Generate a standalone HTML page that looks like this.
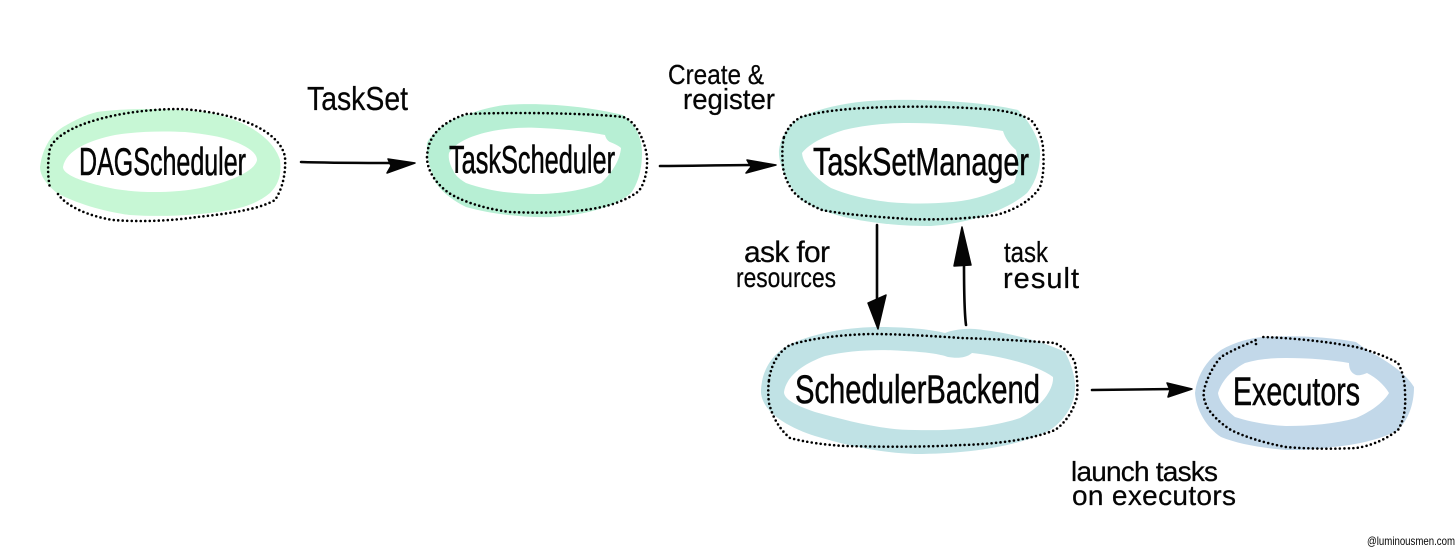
<!DOCTYPE html>
<html><head><meta charset="utf-8"><style>
html,body{margin:0;padding:0;background:#fff;width:1456px;height:558px;overflow:hidden}
svg{display:block}
text{font-family:"Liberation Sans",sans-serif;fill:#050505;stroke:#050505}
.n{stroke-width:.55px}
.e{stroke-width:.25px}
.s{stroke-width:0}
.d{fill:none;stroke:#000;stroke-width:2.6;stroke-linecap:round;stroke-dasharray:0 4.5}
.l{fill:none;stroke:#050505;stroke-width:2.6;stroke-linecap:round}
.h{fill:#050505;stroke:#050505;stroke-width:1.5;stroke-linejoin:round}
</style></head><body>
<svg width="1456" height="558" viewBox="0 0 1456 558" xmlns="http://www.w3.org/2000/svg">
<rect width="1456" height="558" fill="#fff"/>

<!-- DAGScheduler -->
<path fill="#c7f7d5" d="M40 167C42 150 50 135 63 127C75 120 85 115 97 112C125 108 165 108 205 112C240 118 272 135 280 160C282 175 278 185 270 193C258 203 245 207 230 210C195 216 160 217 130 215C105 212 75 203 57 193C47 185 40 176 40 167Z"/>
<path fill="#fff" d="M63 167C66 150 90 140 115 135C140 131 165 131 185 132C205 134 222 137 230 140C245 145 257 152 257 160C255 172 225 184 195 189C170 193 140 193 115 189C90 184 63 176 63 167Z"/>
<path class="d" d="M58 194C66 206 88 216 113 220C140 222 170 221 197 217C225 214 258 210 275 200C283 188 286 172 285 157C280 130 235 112 180 109C120 109 60 125 50 148C47 165 48 178 50 188"/>

<!-- TaskScheduler -->
<path fill="#b7efd4" d="M427 143C432 132 448 120 466 115C480 110 490 107 505 105C545 102 590 107 623 115C637 125 642 140 642 153C642 170 638 183 631 193C615 207 585 215 553 217C525 218 490 214 466 207C452 200 442 192 436 183C430 170 426 155 427 143Z"/>
<path fill="#fff" d="M449 153C455 143 470 136 488 132C505 128 525 127 540 128C565 129 590 132 605 135C606 139 608 141 610 142C615 144 619 146 621 148C620 160 612 173 601 183C585 190 560 194 536 194C510 194 485 190 466 183C458 178 455 175 453 170C450 165 448 158 449 153Z"/>
<path class="d" d="M427 157C428 140 435 125 466 114C510 112 590 113 623 117C635 120 645 140 647 157C648 175 642 190 636 193C620 204 600 208 584 210C560 213 535 213 510 212C480 208 460 200 449 193C435 183 427 170 427 157Z"/>

<!-- TaskSetManager -->
<path fill="#bce9df" d="M779 150C781 135 790 124 801 117C825 106 855 101 888 100C930 99 985 102 1018 110C1030 122 1040 140 1040 153C1040 170 1035 183 1027 193C1005 212 965 224 931 226C900 226 870 223 844 217C825 212 812 207 801 200C788 185 778 165 779 150Z"/>
<path fill="#fff" d="M802 153C810 143 825 136 844 130C865 125 885 123 909 123C945 123 980 127 1003 131C1005 138 1010 145 1016 150C1019 162 1018 173 1014 183C995 193 975 200 953 202C930 204 910 204 888 202C865 199 848 195 831 188C815 178 803 165 802 153Z"/>
<path class="d" d="M784 137C788 128 792 122 801 117C825 110 855 108 888 107C925 106 965 107 996 110C1012 112 1022 115 1031 120C1038 128 1042 138 1043 147C1044 162 1044 175 1040 187C1032 200 1015 210 996 215C965 219 935 220 909 219C880 217 848 215 822 210C810 205 798 198 792 190C787 182 784 175 783 167C782 155 782 145 784 137Z"/>

<!-- SchedulerBackend -->
<path fill="#c0e2e5" d="M761 390C762 370 772 352 795 342C820 332 850 327 880 327C905 327 930 329 945 333C952 330 965 328 975 329C1005 332 1040 340 1065 352C1072 365 1076 380 1075 390C1074 405 1065 420 1050 430C1020 446 970 454 915 454C880 453 845 445 815 436C790 428 760 412 761 390Z"/>
<path fill="#fff" d="M784 392C786 378 800 365 825 356C850 350 880 349 905 351C925 352 940 354 948 357C955 358 965 359 972 353C1000 356 1035 364 1053 377C1054 390 1040 408 1020 418C990 428 950 431 915 430C880 430 845 420 815 412C798 406 784 400 784 392Z"/>
<path class="d" d="M769 380C771 365 778 352 790 345C812 338 840 335 869 334C900 334 932 336 962 338C995 339 1030 341 1055 343C1065 348 1072 355 1075 363C1077 375 1078 386 1077 397C1073 412 1065 423 1055 430C1030 440 995 444 962 445C925 447 885 447 846 446C825 445 805 442 790 438C778 428 772 415 769 403C768 395 768 388 769 380Z"/>

<!-- Executors -->
<path fill="#c2d8e9" d="M1195 393C1197 375 1207 360 1221 350C1235 342 1250 338 1263 337C1295 335 1330 337 1356 342C1360 345 1363 347 1367 350C1385 360 1405 372 1414 387C1414 405 1408 420 1398 430C1380 440 1355 445 1333 447C1315 450 1300 450 1286 450C1262 448 1238 444 1221 437C1207 428 1196 410 1195 393Z"/>
<path fill="#fff" d="M1218 393C1222 380 1232 370 1245 363C1258 359 1272 358 1286 358C1310 358 1332 360 1349 363C1349 369 1351 373 1356 375C1360 376 1364 374 1367 373C1377 378 1385 386 1389 393C1383 403 1370 412 1356 418C1335 424 1310 426 1286 426C1268 425 1250 422 1235 417C1226 410 1219 401 1218 393Z"/>
<path class="d" d="M1256 344L1256 340C1245 345 1232 350 1221 357C1213 366 1207 378 1204 390C1203 396 1204 400 1207 407C1212 415 1220 423 1231 430C1245 437 1265 443 1286 447C1310 449 1335 449 1356 448C1370 446 1385 440 1398 430C1404 420 1406 408 1405 393C1405 383 1403 372 1398 363C1387 357 1372 351 1356 347C1330 342 1295 338 1263 337"/>

<!-- Arrows -->
<path class="l" d="M301 162C330 163 370 163 395 163"/>
<path class="h" d="M388 159L415 163L387 173L391 166Z"/>
<path class="l" d="M660 166C690 166 725 165 755 165"/>
<path class="h" d="M747 160L776 165L746 173L751 167Z"/>
<path class="l" d="M877 225L877 300"/>
<path class="h" d="M868 303L886 295L878 329Z"/>
<path class="l" d="M964 262C964 285 964 310 966 325"/>
<path class="h" d="M962 227L971 265L954 266Z"/>
<path class="l" d="M1092 390L1175 389"/>
<path class="h" d="M1167 383L1192 389L1168 397L1170 390Z"/>

<!-- Node labels -->
<text class="n" x="79" y="175" font-size="39" textLength="167" lengthAdjust="spacingAndGlyphs">DAGScheduler</text>
<text class="n" x="449" y="173" font-size="39" textLength="166" lengthAdjust="spacingAndGlyphs">TaskScheduler</text>
<text class="n" x="813" y="175" font-size="39" textLength="216" lengthAdjust="spacingAndGlyphs">TaskSetManager</text>
<text class="n" x="795" y="403" font-size="40" textLength="245" lengthAdjust="spacingAndGlyphs">SchedulerBackend</text>
<text class="n" x="1233" y="405" font-size="40" textLength="127" lengthAdjust="spacingAndGlyphs">Executors</text>

<!-- Edge labels -->
<text class="e" x="307" y="110" font-size="33" textLength="101" lengthAdjust="spacingAndGlyphs">TaskSet</text>
<text class="e" x="668" y="84" font-size="28" textLength="96" lengthAdjust="spacingAndGlyphs">Create &amp;</text>
<text class="e" x="683" y="109" font-size="29" textLength="92" lengthAdjust="spacingAndGlyphs">register</text>
<text class="e" x="744" y="262" font-size="30" textLength="86" lengthAdjust="spacing">ask for</text>
<text class="e" x="736" y="287" font-size="28" textLength="100" lengthAdjust="spacingAndGlyphs">resources</text>
<text class="e" x="1004" y="262" font-size="29" textLength="44" lengthAdjust="spacingAndGlyphs">task</text>
<text class="e" x="1003" y="288" font-size="29" textLength="76" lengthAdjust="spacing">result</text>
<text class="e" x="1071" y="481" font-size="28" textLength="147" lengthAdjust="spacing">launch tasks</text>
<text class="e" x="1072" y="505" font-size="28" textLength="164" lengthAdjust="spacing">on executors</text>
<text class="s" x="1367" y="545" font-size="12" textLength="88" lengthAdjust="spacingAndGlyphs">@luminousmen.com</text>
</svg>
</body></html>
